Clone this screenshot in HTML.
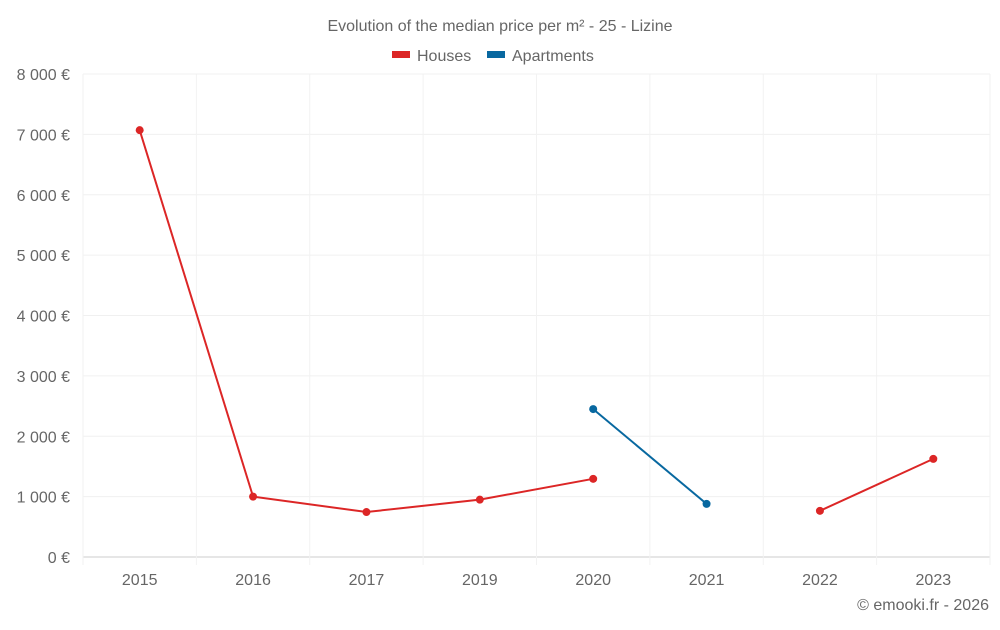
<!DOCTYPE html>
<html><head><meta charset="utf-8"><style>
body{margin:0;background:#fff;font-family:"Liberation Sans",sans-serif;}
svg text{font-family:"Liberation Sans",sans-serif;fill:#666;}
</style></head><body>
<svg id="chart" width="1000" height="625">
<text x="500" y="31" text-anchor="middle" font-size="16">Evolution of the median price per m² - 25 - Lizine</text>
<g>
<g><rect x="392" y="51" width="18" height="7" fill="#dc2626"></rect><text x="417" y="61" font-size="16">Houses</text></g>
<g><rect x="487" y="51" width="18" height="7" fill="#0868a0"></rect><text x="512" y="61" font-size="16">Apartments</text></g>
</g>
<g id="grid"></g><g id="axes"></g><g id="series"></g>
<text x="989" y="610" text-anchor="end" font-size="16">© emooki.fr - 2026</text>
</svg>
<script>
const categories=["2015","2016","2017","2019","2020","2021","2022","2023"];
const houses=[7070,1000,745,950,1295,null,765,1625];
const apartments=[null,null,null,null,2450,880,null,null];
const yTicks=[0,1000,2000,3000,4000,5000,6000,7000,8000];
const yTickLabels=["0 €","1 000 €","2 000 €","3 000 €","4 000 €","5 000 €","6 000 €","7 000 €","8 000 €"];
const NS="http://www.w3.org/2000/svg";
const L=83,R=990,T=74,B=557,yMax=8000;
const bw=(R-L)/categories.length;
const xs=i=>L+bw*(i+0.5);
const ys=v=>B-(v/yMax)*(B-T);
function mk(tag,attrs,parent){const e=document.createElementNS(NS,tag);for(const k in attrs)e.setAttribute(k,attrs[k]);parent.appendChild(e);return e;}
const grid=document.getElementById('grid'),axes=document.getElementById('axes'),ser=document.getElementById('series');
yTicks.forEach((v,i)=>{
 const l=mk('line',{x1:L,x2:R,y1:ys(v),y2:ys(v),stroke:v===0?'#ccc':'#f0f0f0'},grid);
 
 
 const t=mk('text',{x:70,y:ys(v)+6,'text-anchor':'end','font-size':'16'},axes);
 t.textContent=yTickLabels[i];
 
 
});
for(let i=0;i<=categories.length;i++){
 const x=L+bw*i;
 const l=mk('line',{x1:x,x2:x,y1:T,y2:B+8,stroke:'#f2f2f2'},grid);
 
 
}
categories.forEach((c,i)=>{
 const t=mk('text',{x:xs(i),y:585,'text-anchor':'middle','font-size':'16'},axes);
 t.textContent=c;
 
 
});
function draw(data,color,name){
 let seg=[];const segs=[];
 data.forEach((v,i)=>{if(v==null){if(seg.length)segs.push(seg);seg=[];}else seg.push([xs(i),ys(v)]);});
 if(seg.length)segs.push(seg);
 segs.forEach(s=>{
  const p=mk('polyline',{points:s.map(q=>q.join(',')).join(' '),fill:'none',stroke:color,'stroke-width':2},ser);
  
  
 });
 data.forEach((v,i)=>{if(v==null)return;
  const c=mk('circle',{cx:xs(i),cy:ys(v),r:4,fill:color},ser);
  
  
 });
}
draw(houses,'#dc2626','houses');
draw(apartments,'#0868a0','apartments');
</script>
</body></html>
